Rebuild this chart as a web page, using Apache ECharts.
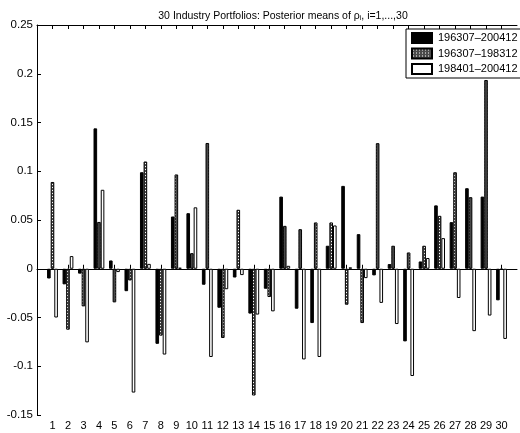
<!DOCTYPE html>
<html>
<head>
<meta charset="utf-8">
<script src="https://cdn.jsdelivr.net/npm/echarts@6/dist/echarts.min.js"></script>
<style>
html,body{margin:0;padding:0;background:#fff;}
#chart{width:520px;height:433px;}
</style>
</head>
<body>
<div id="chart"></div>
<script>
var categories = ['1','2','3','4','5','6','7','8','9','10','11','12','13','14','15','16','17','18','19','20','21','22','23','24','25','26','27','28','29','30'];
var seriesNames = ['196307\u2013200412','196307\u2013198312','198401\u2013200412'];
var full = [-0.010,-0.016,-0.005,0.144,0.0085,-0.023,0.099,-0.077,0.0536,0.057,-0.0164,-0.040,-0.009,-0.046,-0.0205,0.074,-0.041,-0.0557,0.0236,0.085,0.0355,-0.0068,0.0048,-0.0745,0.0075,0.065,0.0478,0.0826,0.074,-0.0324];
var early = [0.089,-0.0625,-0.0386,0.048,-0.0345,-0.012,0.110,-0.0686,0.0967,0.016,0.129,-0.071,0.0605,-0.130,-0.029,0.044,0.0406,0.0475,0.0475,-0.0369,-0.0557,0.1288,0.0236,0.0167,0.0236,0.0543,0.099,0.0734,0.1936,-0.001];
var late = [-0.050,0.013,-0.0755,0.081,-0.0034,-0.127,0.005,-0.088,0.001,0.063,-0.0905,-0.021,-0.0065,-0.047,-0.0437,0.003,-0.093,-0.0905,0.0444,0.0014,-0.0096,-0.035,-0.0567,-0.110,0.011,0.0314,-0.030,-0.064,-0.048,-0.072];
var yTickLabels = ['-0.15','-0.1','-0.05','0','0.05','0.1','0.15','0.2','0.25'];

var axisCats = [''].concat(categories).concat(['']);
function pad(a){ return [null].concat(a).concat([null]); }

// hatch pattern
var pc = document.createElement('canvas');
pc.width = 3; pc.height = 3;
var pctx = pc.getContext('2d');
pctx.fillStyle = '#4a4a4a'; pctx.fillRect(0,0,3,3);
pctx.fillStyle = '#ffffff'; pctx.fillRect(1,1,1,1);
var hatch = {image: pc, repeat: 'repeat'};

var chart = echarts.init(document.getElementById('chart'), null, {renderer:'canvas'});
var font = 'Liberation Sans, Arial, Helvetica, sans-serif';
var lastIdx = axisCats.length - 1;
var tickInt = function(i){ return i !== 0 && i !== lastIdx; };

chart.setOption({
  animation: false,
  backgroundColor: '#fff',
  title: {
    text: '30 Industry Portfolios: Posterior means of ρ{sub|i}, i=1,...,30',
    left: 278, top: 5, textAlign: 'center',
    textStyle: {
      fontFamily: font, fontSize: 10.5, fontWeight: 'normal', color: '#000',
      rich: { sub: {fontFamily: font, fontSize: 7, verticalAlign: 'bottom', padding:[5,0,0,0], color:'#000'} }
    }
  },
  legend: {
    data: seriesNames,
    orient: 'vertical',
    left: 406, top: 29,
    padding: [3, 4, 3, 5],
    itemWidth: 20, itemHeight: 10, itemGap: 3.5,
    borderColor: '#000', borderWidth: 1,
    backgroundColor: '#fff',
    icon: 'rect',
    textStyle: {fontFamily: font, fontSize: 11, color: '#000', padding:[0,0,0,1]}
  },
  grid: {left: 37, right: -8.5, top: 25, bottom: 18, containLabel: false},
  xAxis: [{
    type: 'category', data: axisCats, boundaryGap: false, position: 'bottom',
    axisLine: {lineStyle: {color: '#000', width: 1}},
    axisTick: {inside: true, length: 4, interval: tickInt, lineStyle:{color:'#000'}},
    axisLabel: {interval: 0, color: '#000', fontFamily: font, fontSize: 11, margin: 5},
    splitLine: {show: false}
  },{
    type: 'category', data: axisCats, boundaryGap: false, position: 'top',
    axisLine: {lineStyle: {color: '#000', width: 1}},
    axisTick: {inside: true, length: 4, interval: tickInt, lineStyle:{color:'#000'}},
    axisLabel: {show: false},
    splitLine: {show: false}
  }],
  yAxis: {
    type: 'value', min: -0.15, max: 0.25, interval: 0.05,
    axisLine: {show: true, lineStyle: {color: '#000', width: 1}},
    axisTick: {show: true, inside: true, length: 4, lineStyle:{color:'#000'}},
    axisLabel: {
      color: '#000', fontFamily: font, fontSize: 11.5, margin: 4,
      formatter: function(v){
        var idx = Math.round((v + 0.15) / 0.05);
        return yTickLabels[idx] !== undefined ? yTickLabels[idx] : '';
      }
    },
    splitLine: {show: false}
  },
  series: [{
    name: seriesNames[0], type: 'bar', data: pad(full),
    barCategoryGap: '30%', barGap: '0%',
    itemStyle: {color: '#000', borderColor: '#000', borderWidth: 1}
  },{
    name: seriesNames[1], type: 'bar', data: pad(early),
    barCategoryGap: '30%', barGap: '0%',
    itemStyle: {color: hatch, borderColor: '#000', borderWidth: 1}
  },{
    name: seriesNames[2], type: 'bar', data: pad(late),
    barCategoryGap: '30%', barGap: '0%',
    itemStyle: {color: '#fff', borderColor: '#000', borderWidth: 1}
  }]
});
</script>
</body>
</html>
